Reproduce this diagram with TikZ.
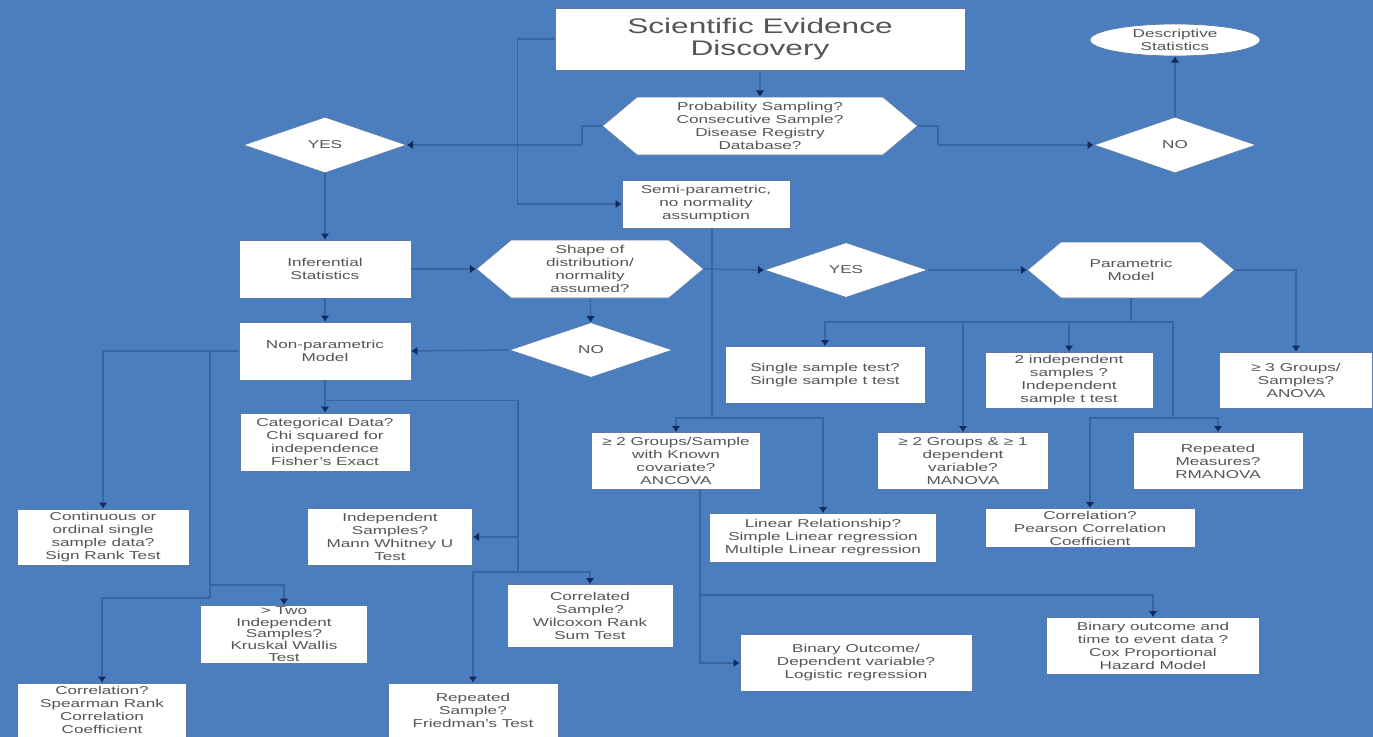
\documentclass[tikz,border=0pt]{standalone}
\usepackage{fontspec}
\setmainfont[FakeStretch=1.5]{Liberation Sans}
\usetikzlibrary{positioning,calc,shapes.geometric,shapes.symbols,arrows.meta}
\definecolor{ChartBlue}{RGB}{74,126,191}
\definecolor{LinkBlue}{RGB}{56,100,160}
\definecolor{TipNavy}{RGB}{18,42,92}
\definecolor{BoxEdge}{RGB}{92,122,164}
\definecolor{BoxText}{RGB}{85,85,85}
\tikzset{
    dims/.style 2 args={minimum width=#1*0.02cm, minimum height=#2*0.02cm},
    flowbox/.style={rectangle, draw=BoxEdge, fill=white, thin, align=center, inner sep=1pt, text=BoxText, font=\fontsize{6.5}{7.4}\selectfont},
    link/.style={draw=LinkBlue, line width=0.8pt, -{Latex[length=3.5pt,width=5pt,color=TipNavy]}},
    trunk/.style={draw=LinkBlue, line width=0.8pt}
}

\begin{document}
\begin{tikzpicture}[
        x={(0.02cm,0)}, y={(0,-0.02cm)},
        % Style cho cau hoi (luc giac)
        question/.style={
            signal, signal to=west and east, signal pointer angle=80,
            draw=BoxEdge, fill=white, thin, align=center, inner sep=0pt,
            text=BoxText, font=\fontsize{6.5}{7.4}\selectfont
        },
        % Style cho YES / NO
        choice/.style={
            diamond, aspect=2.9, draw=BoxEdge, fill=white, thin, inner sep=0pt,
            text=BoxText, font=\fontsize{6.5}{7.4}\selectfont
        },
        % Style cho nut ket thuc
        terminal/.style={
            ellipse, draw=BoxEdge, fill=white, thin, align=center, inner sep=0pt,
            text=BoxText, font=\fontsize{6.5}{7.4}\selectfont
        }
    ]

        % --- NEN ---
        \useasboundingbox (0,0) rectangle (1373,737);
        \fill[ChartBlue] (0,0) rectangle (1373,737);

        % --- PHAN TREN ---
        \node[flowbox, dims={410}{62}, font=\fontsize{12}{12.5}\selectfont] (sed) at (760,39) {Scientific Evidence\\Discovery};
        \node[terminal, dims={170}{32}] (desc) at (1175,40) {Descriptive\\Statistics};
        \node[question, dims={315}{58}] (samp) at (760,126) {Probability Sampling?\\Consecutive Sample?\\Disease Registry\\Database?};
        \node[choice, dims={163}{56}] (yes1) at (325,145) {YES};
        \node[choice, dims={162}{56}] (no1) at (1175,145) {NO};
        \node[flowbox, dims={168}{48}] (semi) at (706,204) {Semi-parametric,\\no normality\\assumption};

        % --- HANG GIUA ---
        \node[flowbox, dims={172}{58}] (infer) at (325,269) {Inferential\\Statistics};
        \node[question, dims={227}{58}] (shape) at (590,269) {Shape of\\distribution/\\normality\\assumed?};
        \node[choice, dims={163}{55}] (yes2) at (846,270) {YES};
        \node[question, dims={207}{56}] (param) at (1131,270) {Parametric\\Model};
        \node[flowbox, dims={172}{58}] (nonp) at (325,351) {Non-parametric\\Model};
        \node[choice, dims={163}{55}] (no2) at (591,350) {NO};

        % --- NHANH THAM SO ---
        \node[flowbox, dims={200}{57}] (single) at (825,375) {Single sample test?\\Single sample t test};
        \node[flowbox, dims={168}{56}] (indep2) at (1069,380) {2 independent\\samples ?\\Independent\\sample t test};
        \node[flowbox, dims={153}{56}] (anova3) at (1296,380) {≥ 3 Groups/\\Samples?\\ANOVA};
        \node[flowbox, dims={169}{57}] (ancova) at (676,461) {≥ 2 Groups/Sample\\with Known\\covariate?\\ANCOVA};
        \node[flowbox, dims={171}{57}] (manova) at (963,461) {≥ 2 Groups \& ≥ 1\\dependent\\variable?\\MANOVA};
        \node[flowbox, dims={170}{57}] (rmanova) at (1218,461) {Repeated\\Measures?\\RMANOVA};
        \node[flowbox, dims={227}{49}] (linear) at (823,538) {Linear Relationship?\\Simple Linear regression\\Multiple Linear regression};
        \node[flowbox, dims={210}{39}] (pearson) at (1090,528) {Correlation?\\Pearson Correlation\\Coefficient};
        \node[flowbox, dims={232}{57}] (binary) at (856,663) {Binary Outcome/\\Dependent variable?\\Logistic regression};
        \node[flowbox, dims={213}{57}] (cox) at (1153,646) {Binary outcome and\\time to event data ?\\Cox Proportional\\Hazard Model};

        % --- NHANH PHI THAM SO ---
        \node[flowbox, dims={170}{58}] (categ) at (325,442) {Categorical Data?\\Chi squared for\\independence\\Fisher's Exact};
        \node[flowbox, dims={172}{56}] (contin) at (103,537) {Continuous or\\ordinal single\\sample data?\\Sign Rank Test};
        \node[flowbox, dims={165}{57}] (mannw) at (390,537) {Independent\\Samples?\\Mann Whitney U\\Test};
        \node[flowbox, dims={166}{63}] (wilcox) at (590,616) {Correlated\\Sample?\\Wilcoxon Rank\\Sum Test};
        \node[flowbox, dims={167}{57}, font=\fontsize{6.5}{6.6}\selectfont] (kruskal) at (284,634) {> Two\\Independent\\Samples?\\Kruskal Wallis\\Test};
        \node[flowbox, dims={169}{54}] (spear) at (102,710) {Correlation?\\Spearman Rank\\Correlation\\Coefficient};
        \node[flowbox, dims={170}{54}] (fried) at (473,710) {Repeated\\Sample?\\Friedman's Test};

        % --- DIEM NOI ---
        \coordinate (pj) at (1131,322);
        \coordinate (rj) at (1173,418);
        \coordinate (sj) at (712,418);
        \coordinate (bj) at (700,595);
        \coordinate (lb) at (210,598);
        \coordinate (kb) at (210,585);
        \coordinate (rb) at (518,572);

        % --- DUONG NOI ---
        \foreach \a/\b in {sed/samp, no1/desc, yes1/infer, infer/nonp, shape/no2, nonp/categ} {
            \draw[link] (\a) -- (\b);
        }
        \draw[link] (sed.west) -- ++(-37,0) |- (semi.west);
        \draw[link] (samp.west) -- ++(-20,0) |- (yes1.east);
        \draw[link] (samp.east) -- ++(20,0) |- (no1.west);
        \draw[link] (infer.east) -- (shape.west);
        \draw[link] (no2.west) -- (nonp.east);
        \draw[link] (shape.east) -- (yes2.west);
        \draw[link] (yes2.east) -- (param.west);
        \draw[link] (param.east) -| (anova3.north);

        % nhanh tham so
        \draw[trunk] (param.south) -- (pj);
        \foreach \leaf in {single, indep2, manova} {
            \draw[link] (pj) -| (\leaf.north);
        }
        \draw[trunk] (pj) -| (rj);
        \draw[link] (rj) -| (rmanova.north);
        \draw[link] (rj) -| (pearson.north);

        % nhanh ban tham so
        \draw[trunk] (semi.south -| sj) -- (sj);
        \draw[link] (sj) -| (ancova.north);
        \draw[link] (sj) -| (linear.north);
        \draw[trunk] (ancova.south -| bj) -- (bj);
        \draw[link] (bj) -| (cox.north);
        \draw[link] (bj) |- (binary.west);

        % nhanh phi tham so
        \draw[link] (nonp.west) -| (contin.north);
        \draw[trunk] (nonp.west) -| (lb);
        \draw[link] (lb) -| (spear.north);
        \draw[link] (kb) -| (kruskal.north);
        \draw[trunk] (nonp.south) -- ++(0,20) -| (rb);
        \draw[link] (rb |- mannw.east) -- (mannw.east);
        \draw[link] (rb) -| (wilcox.north);
        \draw[link] (rb) -| (fried.north);

    \end{tikzpicture}
\end{document}
